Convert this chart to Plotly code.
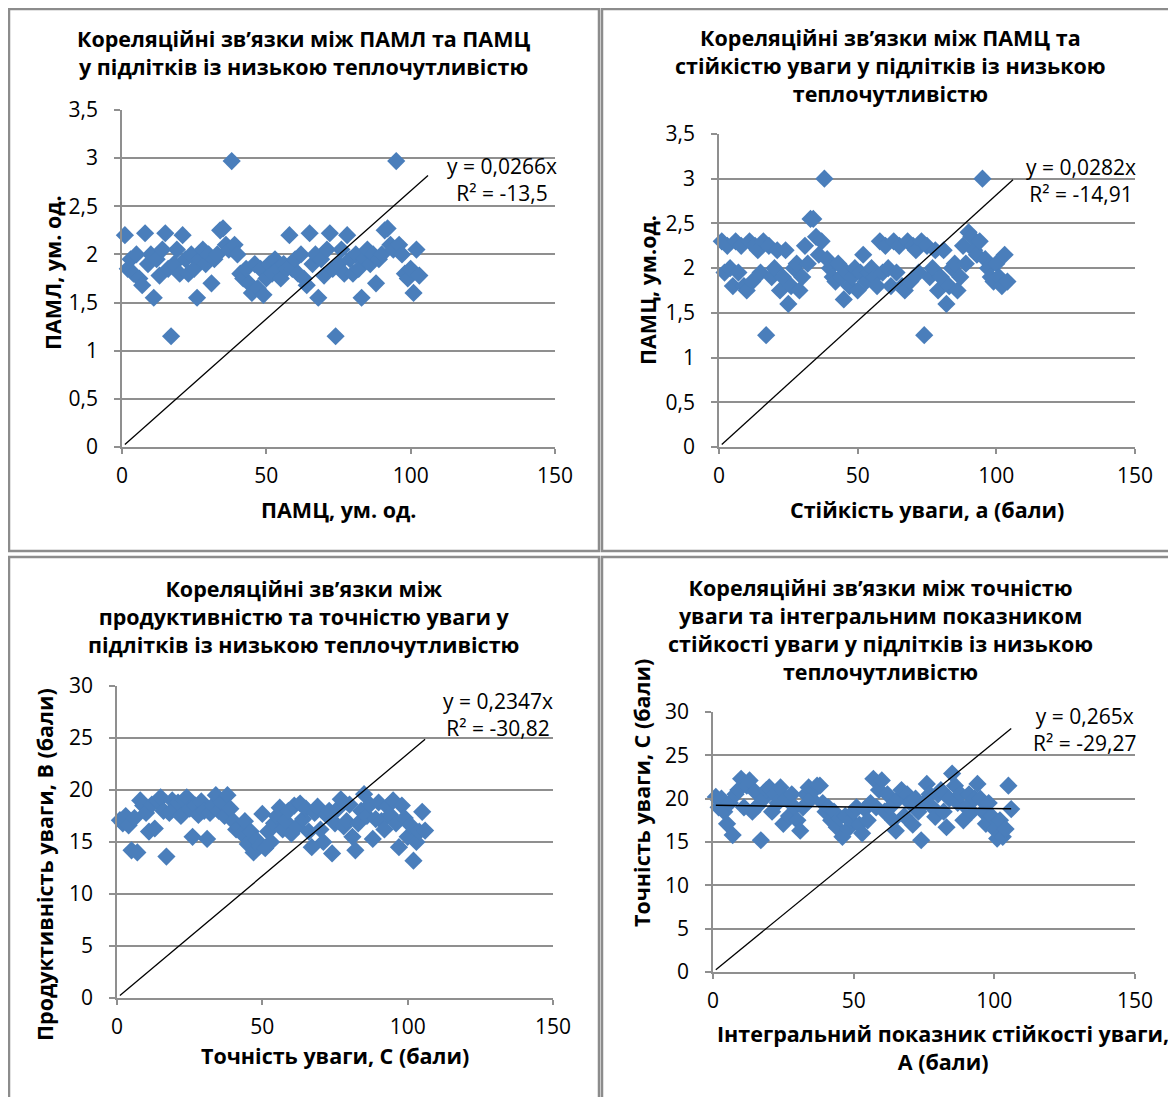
import plotly.graph_objects as go

# the page body adds an 8 px margin, so the figure is drawn 8 px smaller and shifted
OFF = 8
FW, FH = 1176 - OFF, 1097 - OFF

# ---------------- data ----------------
x_idx = list(range(1, 107))

paml_y = [2.2, 1.85, 1.95, 1.8, 2.0, 1.75, 1.68, 2.22, 1.9, 2.0, 1.55, 1.95, 1.78, 2.05, 2.22, 1.85, 1.15, 1.9, 2.05, 1.8,
          2.2, 1.95, 1.8, 2.0, 1.85, 1.55, 1.95, 2.05, 1.9, 2.0, 1.7, 1.95, 2.0, 2.25, 2.27, 2.1, 2.05, 2.97, 2.1, 2.0,
          1.8, 1.75, 1.85, 1.7, 1.6, 1.9, 1.65, 1.85, 1.58, 1.75, 1.9, 1.8, 1.95, 1.85, 1.75, 1.9, 1.85,
          2.2, 1.85, 1.95, 1.8, 2.0, 1.75, 1.68, 2.22, 1.9, 2.0, 1.55, 1.95, 1.78, 2.05, 2.22, 1.85, 1.15, 1.9, 2.05, 1.8,
          2.2, 1.95, 1.8, 2.0, 1.85, 1.55, 1.95, 2.05, 1.9, 2.0, 1.7, 1.95, 2.0, 2.25, 2.27, 2.1, 2.05, 2.97, 2.1, 2.0,
          1.8, 1.75, 1.85, 1.6, 2.05, 1.78]

pamc_y = [2.3, 1.95, 2.25, 2.0, 1.8, 2.3, 1.95, 2.25, 1.8, 1.75, 2.3, 1.85, 2.25, 2.2, 1.95, 2.3, 1.25, 2.25, 1.9, 2.0,
          2.2, 1.75, 1.9, 2.2, 1.6, 1.8, 2.0, 2.05, 1.75, 1.9, 2.25, 2.05, 2.55, 2.55, 2.35, 2.15, 2.3, 3.0, 2.1, 2.0,
          1.9, 1.85, 2.05, 1.9, 1.65, 1.95, 1.8, 1.9, 2.0, 1.75, 1.95, 2.15, 1.85, 1.95, 2.0, 1.9, 1.8,
          2.3, 1.95, 2.25, 2.0, 1.8, 2.3, 1.95, 2.25, 1.8, 1.75, 2.3, 1.85, 2.25, 2.2, 1.95, 2.3, 1.25, 2.25, 1.9, 2.0,
          2.2, 1.75, 1.9, 2.2, 1.6, 1.8, 2.0, 2.05, 1.75, 1.9, 2.25, 2.05, 2.4, 2.35, 2.2, 2.15, 2.3, 3.0, 2.1, 2.0,
          1.9, 1.85, 2.05, 1.9, 1.8, 2.15, 1.85]

prod_y = [17.1, 16.8, 17.5, 16.6, 14.2, 17.3, 14.0, 19.0, 18.5, 17.8, 16.0, 18.6, 16.3, 18.9, 19.3, 18.0, 13.6, 17.8, 19.0, 18.2,
          18.8, 17.5, 19.0, 19.3, 18.2, 15.5, 18.5, 17.6, 18.9, 18.0, 15.3, 17.8, 18.5, 19.5, 18.0, 18.8, 17.5, 19.5, 18.2, 17.0,
          16.2, 16.4, 15.8, 17.0, 14.8, 16.0, 14.0, 15.2, 14.6, 17.7, 14.4, 16.0, 15.0, 16.8, 17.5, 18.3, 16.2, 17.0, 18.0, 15.8,
          18.5, 16.5, 18.7, 17.2, 18.2, 16.0, 14.5, 17.8, 18.4, 16.2, 15.0, 17.6, 18.0, 13.9, 16.8, 18.2, 19.1, 16.5, 17.0, 18.6,
          15.5, 14.2, 16.8, 18.0, 19.6, 17.5, 18.6, 15.3, 17.2, 18.8, 17.0, 16.2, 18.4, 17.6, 19.0, 16.8, 14.5, 18.5, 17.3, 15.5,
          16.6, 13.2, 15.0, 16.0, 17.9, 16.1]

toch_y = [20.2, 19.0, 20.0, 18.5, 17.1, 19.5, 15.8, 20.5, 21.0, 22.3, 19.0, 21.5, 22.1, 18.5, 20.8, 19.2, 15.2, 20.0, 21.0, 21.3,
          18.5, 20.5, 19.5, 21.3, 17.1, 20.0, 18.0, 20.5, 19.0, 17.5, 16.3, 19.0, 20.5, 21.3, 20.0, 21.0, 21.5, 21.5, 19.5, 18.5,
          19.0, 17.5, 18.5, 16.7, 17.8, 15.6, 18.0, 16.5, 17.5, 18.5, 19.0, 17.0, 16.0, 18.8, 17.5, 19.5, 22.3, 19.0, 21.0, 22.1,
          18.5, 20.5, 19.0, 17.5, 16.3, 20.0, 21.0, 18.0, 20.5, 19.5, 17.0, 20.0, 18.5, 15.2, 19.5, 21.7, 20.5, 19.0, 17.9, 20.5,
          21.0, 18.5, 16.7, 20.0, 22.9, 21.5, 19.5, 20.5, 17.5, 19.0, 20.5, 18.5, 20.0, 21.7, 20.0, 18.5, 17.1, 19.5, 18.0, 16.5,
          15.4, 17.5, 15.6, 16.5, 21.5, 18.8]

slopes = [0.0266, 0.0282, 0.2347, 0.265]
eq_text = ["y = 0,0266x", "y = 0,0282x", "y = 0,2347x", "y = 0,265x"]
r2_text = ["R² = -13,5", "R² = -14,91", "R² = -30,82", "R² = -29,27"]
lin4_intercept = 19.23
lin4_slope = -0.0037

titles = [
    ["Кореляційні зв’язки між ПАМЛ та ПАМЦ", "у підлітків із низькою теплочутливістю"],
    ["Кореляційні зв’язки між ПАМЦ та", "стійкістю уваги у підлітків із низькою", "теплочутливістю"],
    ["Кореляційні зв’язки між", "продуктивністю та точністю уваги у", "підлітків із низькою теплочутливістю"],
    ["Кореляційні зв’язки між точністю", "уваги та інтегральним показником",
     "стійкості уваги у підлітків із низькою", "теплочутливістю"],
]
x_titles = [["ПАМЦ, ум. од."], ["Стійкість уваги, а (бали)"], ["Точність уваги, С (бали)"],
            ["Інтегральний показник стійкості уваги,", "А (бали)"]]
y_titles = ["ПАМЛ, ум. од.", "ПАМЦ, ум.од.", "Продуктивність уваги, В (бали)", "Точність уваги, С (бали)"]

series = [paml_y, pamc_y, prod_y, toch_y]
y_ranges = [[0, 3.5], [0, 3.5], [0, 30], [0, 30]]
y_dticks = [0.5, 0.5, 5, 5]

# ---------------- layout helpers (target-picture pixels -> paper) ----------------
def PX(p):
    return (p - OFF) / FW

def PY(p):
    return 1 - (p - OFF) / FH

# plot areas in pixels: (left, right, top, bottom)
areas = [(122, 555, 110, 447), (719, 1135, 134, 447), (117, 553, 686, 998), (713, 1135, 712, 972)]
# (x centre, y centre of first line, y centre of last line)
title_pos = [(303, 40, 65), (890, 40, 91), (303, 590, 642), (880, 590, 668)]
xt_pos = [(338, 510, 510), (927, 510, 510), (335, 1055, 1055), (943, 1035, 1060)]
yt_pos = [(52, 273), (648, 290), (44, 865), (641, 793)]
eq_pos = [(502, 168, 192), (1081, 168, 193), (498, 702, 727), (1084, 717, 742)]

FONT = "Open Sans"
GRID = "#8f8f8f"
BLUE = "#4a7ebb"
FS = 21

fig = go.Figure()
annotations = []
shapes = []

def ann(x, y, text, bold=False, angle=0, size=FS):
    f = dict(family=FONT, size=size, color="black")
    if bold:
        f["weight"] = "bold"
    annotations.append(dict(x=PX(x), y=PY(y), xref="paper", yref="paper", text=text, showarrow=False,
                            xanchor="center", yanchor="middle", align="center", textangle=angle, font=f))

for i in range(4):
    ax = "" if i == 0 else str(i + 1)
    xs = x_idx
    ys = series[i]
    fig.add_trace(go.Scatter(
        x=xs, y=ys, mode="markers", xaxis="x" + ax, yaxis="y" + ax,
        marker=dict(symbol="diamond", size=14, color=BLUE, line=dict(width=0)),
        cliponaxis=False, showlegend=False))
    xmin, xmax = min(xs), max(xs)
    if i == 3:
        fig.add_trace(go.Scatter(
            x=[xmin, xmax], y=[lin4_intercept + lin4_slope * xmin, lin4_intercept + lin4_slope * xmax],
            mode="lines", xaxis="x" + ax, yaxis="y" + ax,
            line=dict(color="black", width=1.5), showlegend=False))
    fig.add_trace(go.Scatter(
        x=[xmin, xmax], y=[slopes[i] * xmin, slopes[i] * xmax], mode="lines",
        xaxis="x" + ax, yaxis="y" + ax, line=dict(color="black", width=1.3), showlegend=False))

    l, r, t, b = areas[i]
    tf = dict(family=FONT, size=FS, color="black")
    xa = dict(domain=[PX(l), PX(r)], range=[0, 150], dtick=50, tick0=0, showgrid=False, zeroline=False,
              showline=True, linecolor=GRID, linewidth=1.5, ticks="outside", ticklen=5, tickcolor=GRID,
              tickwidth=1.5, tickfont=tf, ticklabelstandoff=4, automargin=False,
              anchor="y" + ax, fixedrange=True)
    ya = dict(domain=[PY(b), PY(t)], range=y_ranges[i], dtick=y_dticks[i], tick0=0, showgrid=True,
              gridcolor=GRID, gridwidth=1.5, zeroline=False, showline=True, linecolor=GRID, linewidth=1.5,
              ticks="outside", ticklen=6, tickcolor=GRID, tickwidth=1.5, automargin=False,
              tickfont=tf, ticklabelstandoff=12, anchor="x" + ax, fixedrange=True)
    fig.update_layout(**{"xaxis" + ax: xa, "yaxis" + ax: ya})

    tx, ty0, ty1 = title_pos[i]
    ann(tx, (ty0 + ty1) / 2, "<br>".join(titles[i]), bold=True, size=21.5)
    xx, xy0, xy1 = xt_pos[i]
    ann(xx, (xy0 + xy1) / 2, "<br>".join(x_titles[i]), bold=True, size=21.5)
    yx, yy = yt_pos[i]
    ann(yx, yy, y_titles[i], bold=True, angle=-90, size=21.5)
    ex, ey1, ey2 = eq_pos[i]
    ann(ex, (ey1 + ey2) / 2, eq_text[i] + "<br>" + r2_text[i])

# panel borders
for (x0, y0, x1, y1) in [(9, 9, 599, 551), (602, 9, 1180, 551), (9, 557, 599, 1101), (602, 557, 1180, 1101)]:
    shapes.append(dict(type="rect", xref="paper", yref="paper", x0=PX(x0), x1=PX(x1), y0=PY(y1), y1=PY(y0),
                       line=dict(color="#8c8c8c", width=2.5), fillcolor="rgba(0,0,0,0)", layer="above"))

fig.update_layout(width=FW, height=FH, margin=dict(l=0, r=0, t=0, b=0, autoexpand=False), paper_bgcolor="white",
                  plot_bgcolor="white", separators=", ", annotations=annotations, shapes=shapes,
                  font=dict(family=FONT, color="black"))

fig.write_html("out.html")
